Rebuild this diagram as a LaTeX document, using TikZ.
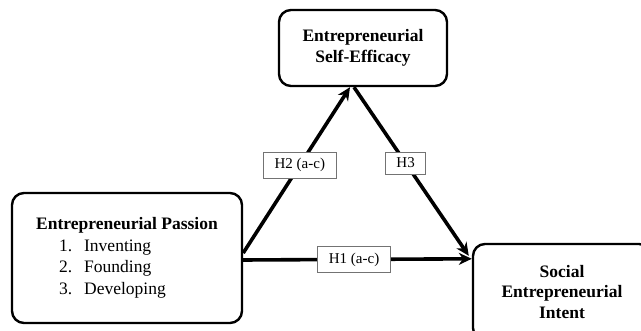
\documentclass[tikz,border=0pt]{standalone}
\usepackage{fontspec}
\setmainfont{Liberation Serif}
\usepackage{tikz}
\usetikzlibrary{arrows.meta}

\begin{document}
\begin{tikzpicture}[x=1pt, y=-1pt,
    box/.style={draw, line width=2.4pt, rounded corners=12pt, align=center,
                font=\fontsize{17.5}{20.5}\selectfont\bfseries},
    lbl/.style={draw=black!55, line width=0.8pt, fill=white, inner xsep=11pt, inner ysep=6pt,
                font=\fontsize{15}{17}\selectfont},
    link/.style={line width=3.6pt, -{Stealth[length=13pt, width=12pt]}}]
                        \useasboundingbox (0, 0) rectangle (641, 331);
                        \clip (0, 0) rectangle (641, 331);

                        \node (ESE) at (363, 48) [box, minimum width=168pt, minimum height=76pt] {Entrepreneurial\\Self-Efficacy};
                        \node (EP) at (127, 258) [box, minimum width=230pt, minimum height=130pt, align=left,
                              font=\fontsize{17.5}{21.6}\selectfont]
                              {\textbf{Entrepreneurial Passion}\\
                               \hspace*{23pt}\makebox[25pt][l]{1.}Inventing\\
                               \hspace*{23pt}\makebox[25pt][l]{2.}Founding\\
                               \hspace*{23pt}\makebox[25pt][l]{3.}Developing};
                        \node (SEI) at (562, 292) [box, minimum width=178pt, minimum height=96pt] {Social\\Entrepreneurial\\Intent};

                        \draw[link] ([yshift=5pt]EP.east) -- node [lbl, pos=0.53] {H2 (a-c)} ([xshift=-13pt]ESE.south);
                        \draw[link] ([xshift=-9pt]ESE.south) -- node [lbl, pos=0.45] {H3} ([xshift=-3pt, yshift=-13pt]SEI.north west);
                        \draw[link] ([yshift=-2pt]EP.east) -- node [lbl, pos=0.485] {H1 (a-c)} ([yshift=-16pt]SEI.north west);
                    \end{tikzpicture}
\end{document}
